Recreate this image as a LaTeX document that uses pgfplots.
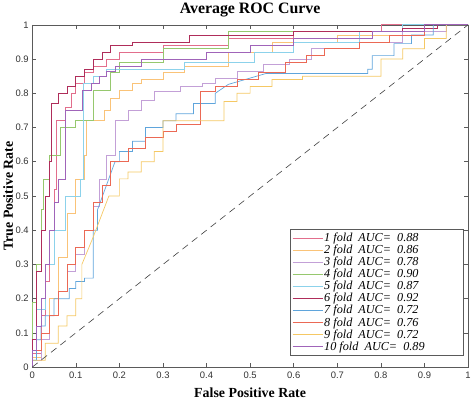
\documentclass[border=0pt]{standalone}
\usepackage{pgfplots}
\pgfplotsset{compat=1.18}
\usepackage{fontspec}
\setmainfont{Liberation Serif}
\newfontfamily\arial{Liberation Sans}
\newcommand\lf{\itshape\fontsize{12.3}{12.3}\selectfont}
\definecolor{c1}{RGB}{226,110,140}
\definecolor{c2}{RGB}{250,195,120}
\definecolor{c3}{RGB}{195,160,215}
\definecolor{c4}{RGB}{150,200,110}
\definecolor{c5}{RGB}{140,210,235}
\definecolor{c6}{RGB}{175,45,90}
\definecolor{c7}{RGB}{95,165,220}
\definecolor{c8}{RGB}{235,105,85}
\definecolor{c9}{RGB}{245,200,100}
\definecolor{c10}{RGB}{160,100,185}
\definecolor{axc}{RGB}{90,90,90}
\begin{document}
\begin{tikzpicture}
\begin{axis}[
  scale only axis, width=438bp, height=344bp,
  xmin=0, xmax=1, ymin=0, ymax=1,
  xtick={0,0.1,...,1.01}, ytick={0,0.1,...,1.01},
  tick align=inside, major tick length=4bp,
  axis line style={axc, line width=0.6bp},
  every tick/.style={axc, line width=0.5bp},
  /pgf/number format/assume math mode=true,
  ticklabel style={font=\arial\fontsize{9.5}{10}\selectfont, text=black!80},
  xticklabel style={yshift=-1bp},
  title={Average ROC Curve},
  title style={font=\bfseries\fontsize{16}{16}\selectfont, at={(axis description cs:0.5,1.025)}, anchor=center},
  xlabel={False Positive Rate},
  xlabel style={font=\bfseries\fontsize{14}{15}\selectfont, at={(axis description cs:0.5,-0.076)}, anchor=center},
  ylabel={True Positive Rate},
  ylabel style={font=\bfseries\fontsize{14}{15}\selectfont, at={(axis description cs:-0.055,0.5)}, anchor=center},
  legend style={at={(0.9886,0.035)}, anchor=south east, draw=axc, line width=0.5bp,
    row sep=-0.6bp, inner sep=2bp,
    nodes={inner sep=1.3bp, font=\lf}},
  legend cell align=left,
  legend image code/.code={\draw[#1, line width=0.7bp] (0bp,0bp) -- (30bp,0bp);},
  every axis plot/.append style={line width=0.7bp},
]
\addplot[c1] coordinates {(0,0)(0,0.04)(0.02,0.04)(0.02,0.15)(0.03,0.15)(0.03,0.25)(0.04,0.25)(0.04,0.4)(0.05,0.4)(0.05,0.52)(0.055,0.52)(0.055,0.72)(0.075,0.72)(0.075,0.76)(0.09,0.76)(0.09,0.8)(0.1,0.8)(0.1,0.83)(0.12,0.83)(0.12,0.86)(0.14,0.86)(0.14,0.88)(0.17,0.88)(0.17,0.9)(0.2,0.9)(0.2,0.92)(0.3,0.92)(0.3,0.94)(0.45,0.94)(0.45,0.96)(0.6,0.96)(0.6,0.98)(0.8,0.98)(0.8,1)(1,1)};
\addlegendentry{\lf 1 fold\ \ AUC=\ \ 0.88}
\addplot[c2] coordinates {(0,0)(0,0.03)(0.02,0.03)(0.02,0.1)(0.04,0.1)(0.04,0.2)(0.06,0.2)(0.06,0.32)(0.08,0.32)(0.08,0.45)(0.1,0.45)(0.1,0.55)(0.12,0.55)(0.12,0.62)(0.125,0.62)(0.125,0.72)(0.165,0.72)(0.165,0.75)(0.18,0.75)(0.18,0.785)(0.2,0.785)(0.2,0.81)(0.23,0.81)(0.23,0.83)(0.25,0.83)(0.25,0.84)(0.3,0.84)(0.3,0.86)(0.35,0.86)(0.35,0.88)(0.45,0.88)(0.45,0.92)(0.55,0.92)(0.55,0.95)(0.7,0.95)(0.7,0.97)(0.85,0.97)(0.85,1)(1,1)};
\addlegendentry{\lf 2 fold\ \ AUC=\ \ 0.86}
\addplot[c3] coordinates {(0,0)(0,0.02)(0.02,0.02)(0.02,0.08)(0.04,0.08)(0.04,0.15)(0.06,0.15)(0.06,0.22)(0.08,0.22)(0.08,0.28)(0.1,0.28)(0.1,0.33)(0.12,0.33)(0.12,0.4)(0.14,0.4)(0.14,0.47)(0.155,0.47)(0.155,0.55)(0.17,0.55)(0.17,0.62)(0.19,0.62)(0.19,0.72)(0.22,0.72)(0.22,0.75)(0.25,0.75)(0.25,0.78)(0.28,0.78)(0.28,0.805)(0.34,0.805)(0.34,0.82)(0.39,0.82)(0.39,0.83)(0.42,0.83)(0.42,0.845)(0.47,0.845)(0.47,0.865)(0.53,0.865)(0.53,0.885)(0.59,0.885)(0.59,0.9)(0.64,0.9)(0.64,0.93)(0.75,0.93)(0.75,0.95)(0.85,0.95)(0.85,0.98)(0.95,0.98)(0.95,1)(1,1)};
\addlegendentry{\lf 3 fold\ \ AUC=\ \ 0.78}
\addplot[c4] coordinates {(0,0)(0,0.19)(0.01,0.19)(0.01,0.3)(0.02,0.3)(0.02,0.46)(0.025,0.46)(0.025,0.55)(0.04,0.55)(0.04,0.62)(0.064,0.62)(0.064,0.7)(0.1,0.7)(0.1,0.72)(0.14,0.72)(0.14,0.81)(0.18,0.81)(0.18,0.86)(0.2,0.86)(0.2,0.89)(0.3,0.89)(0.3,0.93)(0.45,0.93)(0.45,0.98)(0.9,0.98)(0.9,1)(1,1)};
\addlegendentry{\lf 4 fold\ \ AUC=\ \ 0.90}
\addplot[c5] coordinates {(0,0)(0,0.02)(0.01,0.02)(0.01,0.17)(0.03,0.17)(0.03,0.3)(0.05,0.3)(0.05,0.4)(0.075,0.4)(0.075,0.5)(0.11,0.5)(0.11,0.55)(0.118,0.55)(0.118,0.83)(0.14,0.83)(0.14,0.85)(0.17,0.85)(0.17,0.87)(0.35,0.87)(0.35,0.89)(0.51,0.89)(0.51,0.92)(0.6,0.92)(0.6,0.95)(0.75,0.95)(0.75,0.98)(0.85,0.98)(0.85,1)(1,1)};
\addlegendentry{\lf 5 fold\ \ AUC=\ \ 0.87}
\addplot[c6] coordinates {(0,0)(0,0.08)(0.01,0.08)(0.01,0.28)(0.02,0.28)(0.02,0.4)(0.03,0.4)(0.03,0.5)(0.04,0.5)(0.04,0.6)(0.045,0.6)(0.045,0.77)(0.06,0.77)(0.06,0.8)(0.08,0.8)(0.08,0.82)(0.1,0.82)(0.1,0.85)(0.12,0.85)(0.12,0.87)(0.14,0.87)(0.14,0.9)(0.16,0.9)(0.16,0.92)(0.18,0.92)(0.18,0.94)(0.23,0.94)(0.23,0.95)(0.36,0.95)(0.36,0.97)(0.6,0.97)(0.6,0.98)(0.85,0.98)(0.85,0.99)(0.93,0.99)(0.93,1)(1,1)};
\addlegendentry{\lf 6 fold\ \ AUC=\ \ 0.92}
\addplot[c7] coordinates {(0,0)(0,0.02)(0.01,0.02)(0.01,0.08)(0.02,0.08)(0.02,0.12)(0.03,0.12)(0.03,0.15)(0.05,0.15)(0.05,0.2)(0.085,0.2)(0.085,0.23)(0.1,0.23)(0.1,0.25)(0.12,0.25)(0.12,0.26)(0.14,0.26)(0.14,0.4)(0.15,0.4)(0.15,0.46)(0.19,0.6)(0.2,0.6)(0.2,0.63)(0.23,0.63)(0.23,0.66)(0.26,0.66)(0.26,0.7)(0.3,0.7)(0.3,0.72)(0.33,0.72)(0.33,0.74)(0.37,0.74)(0.37,0.77)(0.42,0.77)(0.42,0.8)(0.45,0.826)(0.537,0.858)(0.77,0.858)(0.77,0.87)(0.78,0.87)(0.78,0.91)(0.83,0.91)(0.83,0.945)(0.87,0.945)(0.87,0.97)(0.92,0.97)(0.92,1)(1,1)};
\addlegendentry{\lf 7 fold\ \ AUC=\ \ 0.72}
\addplot[c8] coordinates {(0,0)(0,0.05)(0.02,0.05)(0.02,0.1)(0.04,0.1)(0.04,0.15)(0.06,0.15)(0.06,0.22)(0.08,0.22)(0.08,0.3)(0.1,0.3)(0.1,0.35)(0.12,0.35)(0.12,0.4)(0.14,0.4)(0.14,0.48)(0.16,0.48)(0.16,0.53)(0.18,0.53)(0.18,0.6)(0.22,0.6)(0.22,0.64)(0.26,0.64)(0.26,0.67)(0.3,0.67)(0.3,0.69)(0.33,0.69)(0.33,0.71)(0.385,0.71)(0.385,0.805)(0.42,0.805)(0.42,0.82)(0.47,0.82)(0.47,0.84)(0.52,0.84)(0.52,0.86)(0.58,0.86)(0.58,0.89)(0.63,0.89)(0.63,0.91)(0.67,0.91)(0.67,0.93)(0.75,0.93)(0.75,0.95)(0.82,0.95)(0.82,0.97)(0.9,0.97)(0.9,1)(1,1)};
\addlegendentry{\lf 8 fold\ \ AUC=\ \ 0.76}
\addplot[c9] coordinates {(0,0)(0,0.02)(0.03,0.02)(0.03,0.07)(0.06,0.07)(0.06,0.12)(0.08,0.12)(0.08,0.15)(0.1,0.15)(0.1,0.2)(0.114,0.2)(0.114,0.3)(0.14,0.38)(0.176,0.5)(0.2,0.5)(0.2,0.55)(0.22,0.55)(0.22,0.57)(0.25,0.57)(0.25,0.6)(0.28,0.6)(0.28,0.63)(0.3,0.63)(0.3,0.72)(0.44,0.72)(0.44,0.776)(0.47,0.776)(0.47,0.8)(0.5,0.8)(0.5,0.82)(0.55,0.82)(0.55,0.84)(0.62,0.84)(0.62,0.85)(0.8,0.85)(0.8,0.9)(0.85,0.9)(0.85,0.93)(0.9,0.93)(0.9,0.96)(0.95,0.96)(0.95,1)(1,1)};
\addlegendentry{\lf 9 fold\ \ AUC=\ \ 0.72}
\addplot[c10] coordinates {(0,0)(0,0.05)(0.01,0.05)(0.01,0.12)(0.02,0.12)(0.02,0.2)(0.03,0.2)(0.03,0.3)(0.04,0.3)(0.04,0.4)(0.05,0.4)(0.05,0.48)(0.06,0.48)(0.06,0.55)(0.075,0.55)(0.075,0.75)(0.115,0.75)(0.115,0.81)(0.135,0.81)(0.135,0.83)(0.155,0.83)(0.155,0.85)(0.17,0.85)(0.17,0.865)(0.19,0.865)(0.19,0.88)(0.25,0.88)(0.25,0.9)(0.4,0.9)(0.4,0.92)(0.5,0.92)(0.5,0.94)(0.6,0.94)(0.6,0.96)(0.78,0.96)(0.78,0.98)(0.9,0.98)(0.9,1)(1,1)};
\addlegendentry{\makebox[136bp][l]{\lf 10 fold\ \ AUC=\ \ 0.89}}
\addplot[black!75, dash pattern=on 7bp off 5bp, line width=0.6bp, forget plot] coordinates {(0,0)(1,1)};
\end{axis}
\end{tikzpicture}
\end{document}
